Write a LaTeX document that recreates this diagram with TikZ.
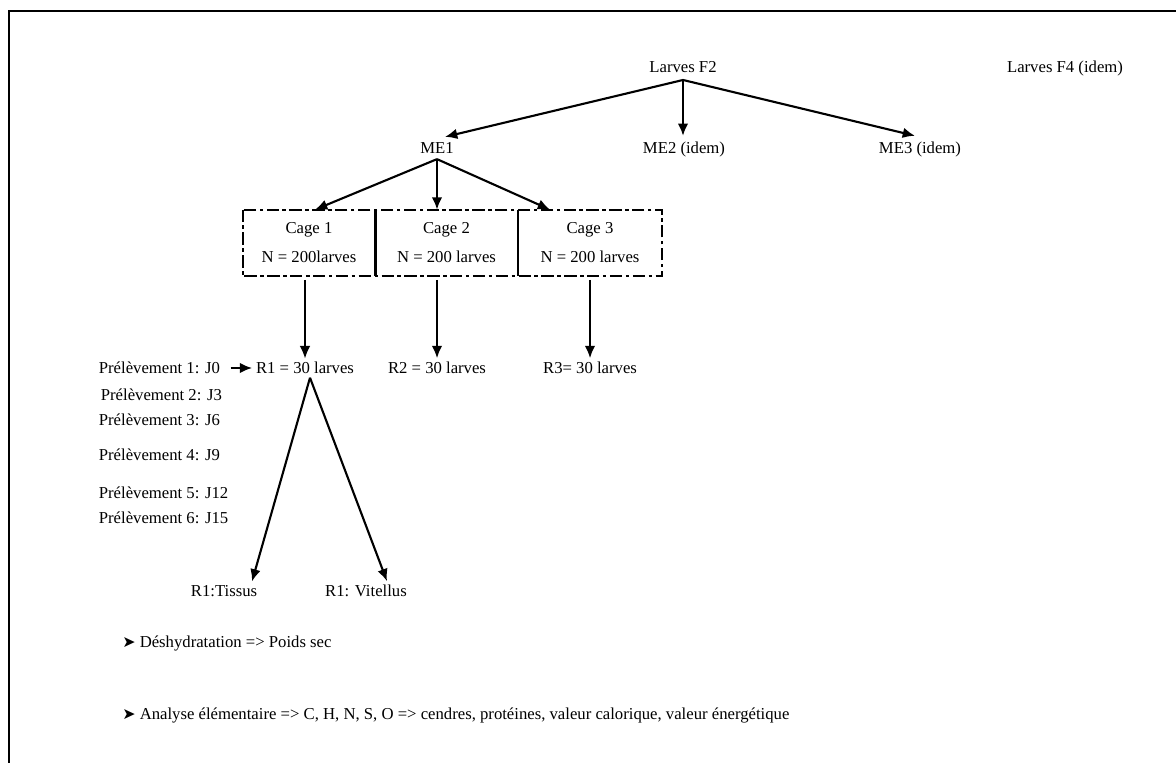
\documentclass[tikz,border=0pt]{standalone}
\usepackage{fontspec}
\setmainfont{Liberation Serif}
\newfontfamily\symfont{DejaVu Sans}
\usetikzlibrary{arrows.meta}

\tikzset{
  arr/.style={-{Latex[length=7pt,width=6pt]}, line width=1.2pt},
  thinarr/.style={-{Latex[length=7pt,width=6pt]}, line width=0.6pt},
  lbl/.style={inner sep=2pt},
  cage/.style={minimum height=1.32cm, inner sep=0pt, align=center},
  cagedash/.style={line width=1.2pt, dash pattern={on 7pt off 2pt on 2pt off 2pt}}
}

\begin{document}
\begin{tikzpicture}[x=0.02cm, y=-0.02cm, font=\fontsize{9.5}{11.5}\selectfont]
	\useasboundingbox (0,0) rectangle (1176,763);
	\draw[line width=1.7pt] (9,770) -- (9,11) -- (1180,11);

	% niveau 1
	\node[lbl, inner ysep=4pt] (f2) at (683,67) {Larves F2};
	\node[lbl] (f4) at (1065,68) {Larves F4 (idem)};
	\node[lbl, inner ysep=3pt] (me1) at (437,148) {ME1};
	\node[lbl, inner ysep=3pt] (me2) at (684,149) {ME2 (idem)};
	\node[lbl, inner ysep=3pt] (me3) at (920,149) {ME3 (idem)};
	\draw[arr] (f2.south) -- ([xshift=0.16cm]me1.north);
	\draw[arr] (f2.south) -- (me2.north -| f2.south);
	\draw[arr] (f2.south) -- ([xshift=-0.1cm]me3.north);

	% cages
	\node[cage, minimum width=2.64cm] (cage1) at (309,243) {Cage 1\\[5pt]N = 200larves};
	\node[cage, minimum width=2.86cm] (cage2) at (446.5,243) {Cage 2\\[5pt]N = 200 larves};
	\node[cage, minimum width=2.88cm] (cage3) at (590,243) {Cage 3\\[5pt]N = 200 larves};
	\draw[cagedash] (cage1.north west) rectangle (cage3.south east);
	\draw[line width=1.8pt] (cage1.north east) -- (cage1.south east);
	\draw[line width=1.2pt] (cage2.north east) -- (cage2.south east);
	\draw[arr] (me1.south) -- ([xshift=0.12cm]cage1.north);
	\draw[arr] (me1.south) -- (cage2.north -| me1.south);
	\draw[arr] (me1.south) -- ([xshift=-0.8cm]cage3.north);

	% replicats
	\node[lbl] (r1) at (305,368) {R1 = 30 larves};
	\node[lbl] (r2) at (437,368) {R2 = 30 larves};
	\node[lbl] (r3) at (590,368) {R3= 30 larves};
	\draw[thinarr, shorten <=2pt] (r1.north |- cage1.south) -- (r1.north);
	\draw[arr, shorten <=2pt] (r2.north |- cage2.south) -- (r2.north);
	\draw[arr, shorten <=2pt] (r3.north |- cage3.south) -- (r3.north);

	% prelevements
	\node[lbl, anchor=west] (p1) at (95,368) {Prélèvement 1: J0};
	\node[lbl, anchor=west] (p2) at (97,395) {Prélèvement 2: J3};
	\node[lbl, anchor=west] (p3) at (95,420) {Prélèvement 3: J6};
	\node[lbl, anchor=west] (p4) at (95,455) {Prélèvement 4: J9};
	\node[lbl, anchor=west] (p5) at (95,493) {Prélèvement 5: J12};
	\node[lbl, anchor=west] (p6) at (95,518) {Prélèvement 6: J15};
	\draw[arr, shorten <=4pt] (p1) -- (r1);

	% tissus / vitellus
	\node[lbl] (tissus) at (224,591) {R1:Tissus};
	\node[lbl] (vitellus) at (366,591) {R1: Vitellus};
	\draw[arr] ([xshift=0.1cm]r1.south) -- ([xshift=0.56cm]tissus.north);
	\draw[arr] ([xshift=0.1cm]r1.south) -- ([xshift=0.42cm]vitellus.north);

	% analyses
	\node[inner sep=0pt, anchor=west] (dehyd) at (122,643) {{\symfont\fontsize{9}{10}\selectfont ➤} Déshydratation => Poids sec};
	\node[inner sep=0pt, anchor=west] (anal) at (122,715) {{\symfont\fontsize{9}{10}\selectfont ➤} Analyse élémentaire => C, H, N, S, O => cendres, protéines, valeur calorique, valeur énergétique};
\end{tikzpicture}
\end{document}
